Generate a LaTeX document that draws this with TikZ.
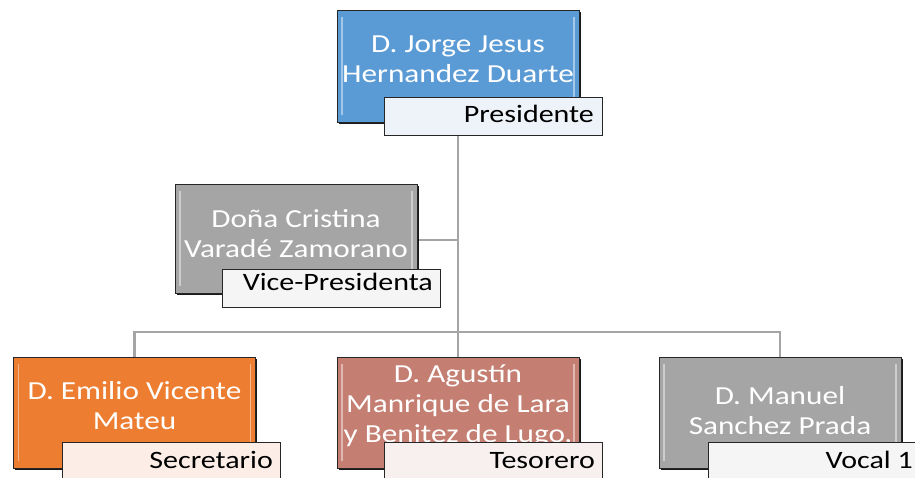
\documentclass[tikz,border=0pt]{standalone}
\usepackage{fontspec}
\setmainfont{Carlito}[FakeStretch=1.2]
\usetikzlibrary{shadows}
\definecolor{connGray}{HTML}{A5A5A5}
\definecolor{cBlue}{HTML}{5B9BD5}
\definecolor{cGray}{HTML}{A5A5A5}
\definecolor{cOrange}{HTML}{ED7D31}
\definecolor{cRose}{HTML}{C47F72}
\definecolor{lBlue}{HTML}{EEF3FA}
\definecolor{lGray}{HTML}{F5F5F5}
\definecolor{lOrange}{HTML}{FCEEE7}
\definecolor{lRose}{HTML}{F7F0EF}
\begin{document}
\begin{tikzpicture}[x=1pt,y=-1pt,
  box/.style={draw=black!85, line width=0.8pt, minimum width=242pt, minimum height=111pt, inner sep=0pt,
    drop shadow={shadow xshift=1.5pt, shadow yshift=-1.5pt, opacity=0.9, fill=black},
    path picture={
      \draw[white, opacity=0.45, line width=1.6pt]
        ([xshift=5pt,yshift=-7pt]path picture bounding box.north west) -- ([xshift=5pt,yshift=7pt]path picture bounding box.south west)
        ([xshift=-5pt,yshift=-7pt]path picture bounding box.north east) -- ([xshift=-5pt,yshift=7pt]path picture bounding box.south east);
    }},
  lab/.style={draw=black!85, line width=0.8pt, minimum width=218pt, minimum height=38pt, inner sep=0pt},
  nm/.style={text=white, font=\fontsize{26}{30}\selectfont, align=center, inner sep=0pt},
  lt/.style={text=black, font=\fontsize{25}{30}\selectfont, anchor=base east, inner sep=0pt},
  conn/.style={draw=connGray, line width=2.2pt}]
\useasboundingbox (0,0) rectangle (915,477);
\clip (0,0) rectangle (915,477);

% boxes (positions)
\coordinate (presC) at (458,66);
\coordinate (vpC) at (296,238.5);
\coordinate (secC) at (134.5,412.5);
\coordinate (tesC) at (458,412.5);
\coordinate (vocC) at (780,412.5);
\coordinate (bar) at (458,332);

% connectors
\path (presC) ++(0,56) coordinate (presBot);
\path (vpC) ++(121,1.5) coordinate (vpE);
\path (tesC) ++(0,-55.5) coordinate (tesTop);
\path (secC) ++(0,-55.5) coordinate (secTop);
\path (vocC) ++(0,-55.5) coordinate (vocTop);
\draw[conn] (presBot) -- (tesTop);
\draw[conn] (vpE) -- (vpE -| bar);
\draw[conn] (secTop) |- (bar) -| (vocTop);

% main boxes
\node[box, fill=cBlue, minimum height=112pt] (pres) at (presC) {};
\node[box, fill=cGray, minimum height=109pt] (vp) at (vpC) {};
\node[box, fill=cOrange] (sec) at (secC) {};
\node[box, fill=cRose] (tes) at (tesC) {};
\node[box, fill=cGray] (voc) at (vocC) {};

% name texts
\node[nm] (presT) at (458,59) {D. Jorge Jesus\\Hernandez Duarte};
\node[nm] (vpT) at (296,234) {Doña Cristina\\Varadé Zamorano};
\node[nm] (secT) at (134.5,405.5) {D. Emilio Vicente\\Mateu};
\node[nm] (tesT) at (458,405.5) {D. Agustín\\Manrique de Lara\\y Benitez de Lugo,};
\node[nm] (vocT) at (780,410.5) {D. Manuel\\Sanchez Prada};

% role labels
\node[lab, fill=lBlue] (presL) at (493,116) {};
\node[lab, fill=lGray] (vpL) at (331,288) {};
\node[lab, fill=lOrange] (secL) at (171,461) {};
\node[lab, fill=lRose] (tesL) at (493.5,461) {};
\node[lab, fill=lGray] (vocL) at (817,461) {};

\node[lt] (presLT) at (594,122) {Presidente};
\node[lt] (vpLT) at (433,290) {Vice-Presidenta};
\node[lt] (secLT) at (273,468) {Secretario};
\node[lt] (tesLT) at (595,468) {Tesorero};
\node[lt] (vocLT) at (913,468) {Vocal 1};
\end{tikzpicture}
\end{document}
